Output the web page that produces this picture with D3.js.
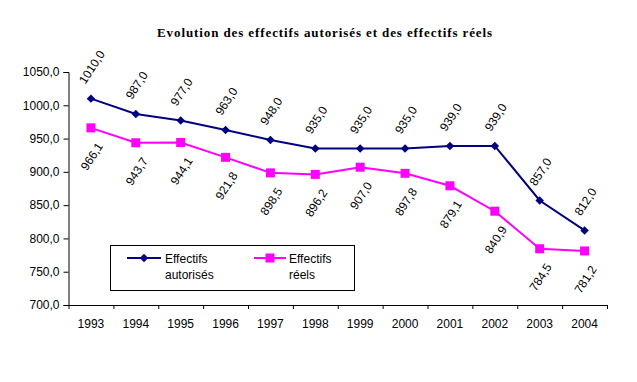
<!DOCTYPE html>
<html><head><meta charset="utf-8">
<script src="https://cdn.jsdelivr.net/npm/d3@7"></script>
<style>body{margin:0;background:#fff}svg{display:block}</style>
</head><body>
<svg id="c" width="637" height="382"></svg>
<script>
const years = ["1993","1994","1995","1996","1997","1998","1999","2000","2001","2002","2003","2004"];
const autorises = [1010.0,987.0,977.0,963.0,948.0,935.0,935.0,935.0,939.0,939.0,857.0,812.0];
const reels = [966.1,943.7,944.1,921.8,898.5,896.2,907.0,897.8,879.1,840.9,784.5,781.2];
const yTicks = [700,750,800,850,900,950,1000,1050];
const title = "Evolution des effectifs autorisés et des effectifs réels";
const seriesNames = [["Effectifs","autorisés"],["Effectifs","réels"]];

const fr = d3.formatLocale({decimal:",",thousands:" ",grouping:[3],currency:["","€"]});
const fmt = fr.format(".1f");

const svg = d3.select("#c");
const L=68.5, R=607, T=72, B=305;
const x = d3.scaleBand().domain(years).range([L,R]).padding(0);
const xb = d3.scaleLinear().domain([0,years.length]).range([L,R]);
const y = d3.scaleLinear().domain([700,1050]).range([B,T]);

svg.append("text").attr("x",325).attr("y",37).attr("text-anchor","middle")
  .attr("font-family","Liberation Serif").attr("font-weight","bold").attr("font-size",13)
  .attr("letter-spacing","0.9px")
  .text(title);

// Y axis
const ya = svg.append("g").attr("transform",`translate(${L},0)`)
  .call(d3.axisLeft(y).tickValues(yTicks).tickFormat(fmt).tickSize(5).tickPadding(4));
ya.selectAll("text").attr("font-family","Liberation Sans").attr("font-size",12).attr("fill","#000");
ya.selectAll("line,path").attr("stroke","#000");

// X axis tick marks at band boundaries
const xt = svg.append("g").attr("transform",`translate(0,${B})`)
  .call(d3.axisBottom(xb).tickValues(d3.range(years.length+1)).tickFormat("").tickSize(4).tickSizeOuter(0));
xt.selectAll("line,path").attr("stroke","#000");
const xl = svg.append("g").attr("transform",`translate(0,${B})`)
  .call(d3.axisBottom(x).tickSize(0).tickPadding(14));
xl.select(".domain").remove();
xl.selectAll("text").attr("font-family","Liberation Sans").attr("font-size",12).attr("fill","#000");

const cx = d => x(d)+x.bandwidth()/2;
const line = d3.line().x((d,i)=>cx(years[i])).y(d=>y(d));

const colors = ["#000080","#FF00FF"];
svg.append("path").datum(autorises).attr("d",line).attr("fill","none").attr("stroke",colors[0]).attr("stroke-width",2);
svg.append("path").datum(reels).attr("d",line).attr("fill","none").attr("stroke",colors[1]).attr("stroke-width",2);

const diamond = d3.symbol().type(d3.symbolSquare).size(36);
svg.selectAll(".m1").data(autorises).join("path")
  .attr("d",diamond()).attr("fill",colors[0])
  .attr("transform",(d,i)=>`translate(${cx(years[i])},${y(d)}) rotate(45)`);
svg.selectAll(".m2").data(reels).join("rect")
  .attr("x",(d,i)=>cx(years[i])-4.5).attr("y",d=>y(d)-4.5).attr("width",9).attr("height",9).attr("fill",colors[1]);

// data labels
const ang = -57, s = Math.sin(57*Math.PI/180);
function labels(data, dir){
  const g = svg.append("g");
  data.forEach((v,i)=>{
    const t = g.append("text").attr("font-family","Liberation Sans").attr("font-size",12)
      .attr("text-anchor","middle").attr("dominant-baseline","central").text(fmt(v));
    const w = t.node().getComputedTextLength();
    const off = 16 + w/2*s;
    const px = cx(years[i]) + 1, py = y(v) + dir*off;
    t.attr("transform",`translate(${px},${py}) rotate(${ang})`);
  });
}
labels(autorises,-1);
labels(reels,1);

// legend
const lg = svg.append("g");
lg.append("rect").attr("x",110.5).attr("y",245.5).attr("width",244).attr("height",45)
  .attr("fill","#fff").attr("stroke","#000").attr("stroke-width",1);
const legX = [[127,161,144,165],[254,286,270,289]];
seriesNames.forEach((nm,k)=>{
  const [a,b,m,tx] = legX[k];
  lg.append("line").attr("x1",a).attr("x2",b).attr("y1",258).attr("y2",258).attr("stroke",colors[k]).attr("stroke-width",2);
  if(k===0) lg.append("path").attr("d",diamond()).attr("fill",colors[0]).attr("transform",`translate(${m},258) rotate(45)`);
  else lg.append("rect").attr("x",m-4.5).attr("y",253.5).attr("width",9).attr("height",9).attr("fill",colors[1]);
  nm.forEach((t,j)=>lg.append("text").attr("x",tx).attr("y",263+j*16).attr("font-family","Liberation Sans").attr("font-size",12).text(t));
});
</script>
</body></html>
